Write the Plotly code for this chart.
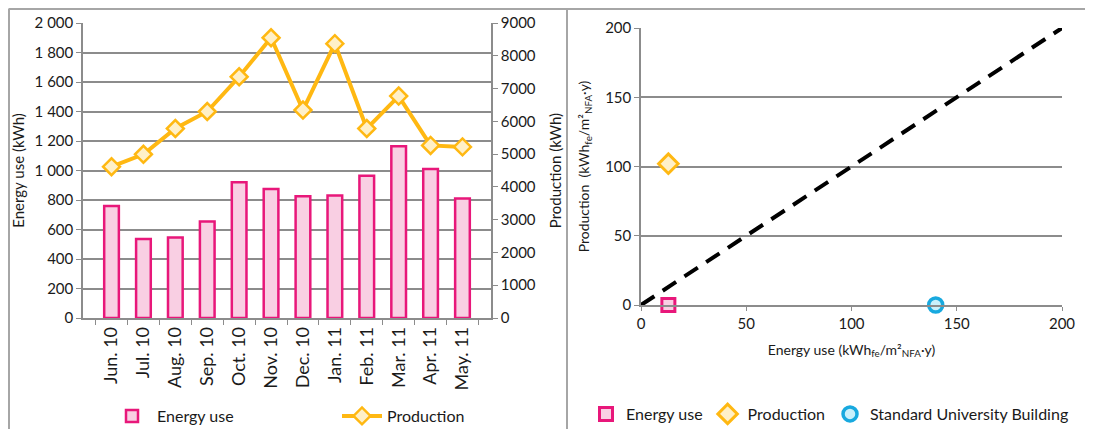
import plotly.graph_objects as go

months = ["Jun. 10", "Jul. 10", "Aug. 10", "Sep. 10", "Oct. 10", "Nov. 10",
          "Dec. 10", "Jan. 11", "Feb. 11", "Mar. 11", "Apr. 11", "May. 11"]
energy_use = [760, 535, 545, 655, 920, 875, 825, 830, 965, 1165, 1010, 810]
production = [4615, 4995, 5780, 6300, 7360, 8550, 6345, 8370, 5780, 6770, 5265, 5220]

left_ticks = [0, 200, 400, 600, 800, 1000, 1200, 1400, 1600, 1800, 2000]
left_tick_labels = ["0", "200", "400", "600", "800", "1 000", "1 200", "1 400",
                    "1 600", "1 800", "2 000"]

# Right panel (per m2 NFA per year)
pt_energy_x, pt_energy_y = [13], [0]
pt_prod_x, pt_prod_y = [13], [102]
pt_std_x, pt_std_y = [140], [0]
parity_x = [0, 200]
parity_y = [0, 200]

W, H = 1093, 429
OFF = 8  # default page body margin
FW, FH = W - OFF, H - OFF
FONT = "Lato, 'Open Sans', sans-serif"
GRID = "#8c8c8c"
TXT = "#1a1a1a"
PINK = "#E8177A"
PINK_FILL = "#F9CFE3"
ORANGE = "#FFB812"
ORANGE_FILL = "#FFF0C8"
CYAN = "#18A9DF"
CYAN_FILL = "#C9F0FB"

def px(x):
    return (x - OFF) / FW

def py(y):
    return 1 - (y - OFF) / FH

fig = go.Figure()

fig.add_trace(go.Bar(
    x=months, y=energy_use, name="Energy use",
    marker=dict(color=PINK_FILL, line=dict(color=PINK, width=2.5)),
    width=0.46, xaxis="x", yaxis="y", legend="legend"))

fig.add_trace(go.Scatter(
    x=months, y=production, name="Production", mode="lines+markers",
    line=dict(color=ORANGE, width=4),
    marker=dict(symbol="diamond", size=13, color=ORANGE_FILL,
                line=dict(color=ORANGE, width=2.5)),
    xaxis="x", yaxis="y2", legend="legend"))

fig.add_trace(go.Scatter(
    x=parity_x, y=parity_y, mode="lines", showlegend=False,
    line=dict(color="black", width=4, dash="16px,10px"),
    xaxis="x3", yaxis="y3", hoverinfo="skip"))

fig.add_trace(go.Scatter(
    x=pt_energy_x, y=pt_energy_y, name="Energy use", mode="markers",
    marker=dict(symbol="square", size=13, color=PINK_FILL,
                line=dict(color=PINK, width=3)),
    xaxis="x3", yaxis="y3", legend="legend2", cliponaxis=False))

fig.add_trace(go.Scatter(
    x=pt_prod_x, y=pt_prod_y, name="Production", mode="markers",
    marker=dict(symbol="diamond", size=15, color=ORANGE_FILL,
                line=dict(color=ORANGE, width=3)),
    xaxis="x3", yaxis="y3", legend="legend2", cliponaxis=False))

fig.add_trace(go.Scatter(
    x=pt_std_x, y=pt_std_y, name="Standard University Building", mode="markers",
    marker=dict(symbol="circle", size=14, color=CYAN_FILL,
                line=dict(color=CYAN, width=3.5)),
    xaxis="x3", yaxis="y3", legend="legend2", cliponaxis=False))

tickfont = dict(family=FONT, size=15, color=TXT)
monthfont = dict(family=FONT, size=18, color=TXT)
titlefont = dict(family=FONT, size=15, color=TXT)
titlefont3 = dict(family=FONT, size=14, color=TXT)

fig.update_layout(
    width=FW, height=FH,
    margin=dict(l=0, r=0, t=0, b=0, autoexpand=False),
    paper_bgcolor="white", plot_bgcolor="white",
    font=dict(family=FONT, color=TXT),
    xaxis=dict(domain=[px(83), px(491)], anchor="y", automargin=False,
               type="category", tickangle=-90, tickfont=monthfont,
               showline=True, linecolor=GRID, linewidth=1.5,
               ticks="outside", ticklen=5, tickcolor=GRID, tickson="boundaries",
               showgrid=False, zeroline=False, fixedrange=True),
    yaxis=dict(domain=[py(318), py(23)], anchor="x", automargin=False,
               range=[0, 2000], tickvals=left_ticks, ticktext=left_tick_labels,
               tickfont=tickfont, showline=True, linecolor=GRID, linewidth=1.5,
               ticks="outside", ticklen=5, tickcolor=GRID,
               showgrid=True, gridcolor=GRID, gridwidth=1.5, zeroline=False,
               title=dict(text="Energy use (kWh)", font=titlefont, standoff=6)),
    yaxis2=dict(overlaying="y", side="right", anchor="x", automargin=False,
                range=[0, 9000], dtick=1000, tickformat="d",
                tickfont=tickfont, showline=True, linecolor=GRID, linewidth=1.5,
                ticks="outside", ticklen=5, tickcolor=GRID,
                showgrid=False, zeroline=False,
                title=dict(text="Production (kWh)", font=titlefont, standoff=16)),
    xaxis3=dict(domain=[px(641), px(1062)], anchor="y3", automargin=False,
                range=[0, 200], dtick=50, tickfont=tickfont,
                showline=True, linecolor=GRID, linewidth=1.5,
                ticks="outside", ticklen=4, tickcolor=GRID,
                showgrid=False, zeroline=False,
                title=dict(text="Energy use (kWh<sub>fe</sub>/m²<sub>NFA</sub>·y)",
                           font=titlefont3, standoff=14)),
    yaxis3=dict(domain=[py(305), py(28)], anchor="x3", automargin=False,
                range=[0, 200], dtick=50, tickfont=tickfont,
                showline=True, linecolor=GRID, linewidth=1.5,
                ticks="outside", ticklen=5, tickcolor=GRID,
                showgrid=True, gridcolor=GRID, gridwidth=1.5, zeroline=False,
                title=dict(text="Production  (kWh<sub>fe</sub>/m²<sub>NFA</sub>·y)",
                           font=titlefont3, standoff=12)),
    legend=dict(orientation="h", x=px(107), y=py(433), xanchor="left", yanchor="bottom",
                font=dict(family=FONT, size=16, color=TXT),
                entrywidth=175, bgcolor="rgba(0,0,0,0)", itemwidth=40),
    legend2=dict(orientation="h", x=px(586), y=py(431), xanchor="left", yanchor="bottom",
                 font=dict(family=FONT, size=16, color=TXT),
                 bgcolor="rgba(0,0,0,0)", itemwidth=30),
    shapes=[
        dict(type="line", xref="paper", yref="paper", x0=px(8.5), x1=1, y0=py(9), y1=py(9),
             line=dict(color="#a6a6a6", width=2)),
        dict(type="line", xref="paper", yref="paper", x0=px(9), x1=px(9), y0=0, y1=py(9),
             line=dict(color="#a6a6a6", width=2)),
        dict(type="line", xref="paper", yref="paper", x0=px(567), x1=px(567), y0=0, y1=py(9),
             line=dict(color="#a6a6a6", width=2)),
    ],
    showlegend=True,
)

fig.write_html("out.html")
